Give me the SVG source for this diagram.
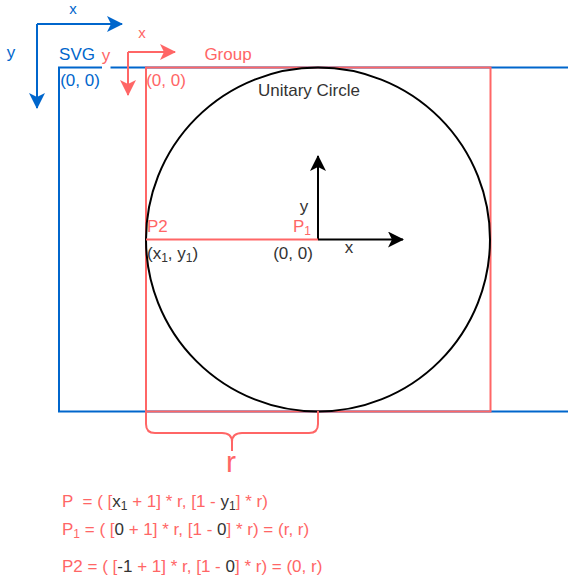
<svg xmlns="http://www.w3.org/2000/svg" width="568" height="583" viewBox="0 0 568 583">
<defs>
<style>
text{font-family:"Liberation Sans",Arial,sans-serif;font-size:17px}
.blue{fill:#0066CC}
.red{fill:#FF6666}
.dark{fill:#333333}
.c{text-anchor:middle}
.sub{font-size:12px}
.bl{stroke:#0066CC;stroke-width:2;fill:none}
.rl{stroke:#FF6666;stroke-width:2;fill:none}
.kl{stroke:#000000;stroke-width:2;fill:none}
</style>
<marker id="ab" viewBox="0 0 16 16" refX="15" refY="8" markerWidth="16" markerHeight="16" markerUnits="userSpaceOnUse" orient="auto">
<path d="M0,0 L16,8 L0,16 L4,8 Z" fill="#0066CC"/>
</marker>
<marker id="ar" viewBox="0 0 16 16" refX="15" refY="8" markerWidth="16" markerHeight="16" markerUnits="userSpaceOnUse" orient="auto">
<path d="M0,0 L16,8 L0,16 L4,8 Z" fill="#FF6666"/>
</marker>
<marker id="ak" viewBox="0 0 16 16" refX="15" refY="8" markerWidth="16" markerHeight="16" markerUnits="userSpaceOnUse" orient="auto">
<path d="M0,0 L16,8 L0,16 L4,8 Z" fill="#000000"/>
</marker>
</defs>
<rect width="568" height="583" fill="#ffffff"/>

<g id="svg-frame">
<path class="bl" d="M570,67.5 L59,67.5 L59,411.5 L570,411.5"/>
<text class="blue c" x="77" y="60">SVG</text>
<text class="blue c" x="80" y="86">(0, 0)</text>
</g>

<g id="group-frame">
<rect class="rl" x="146" y="67.5" width="344.5" height="344"/>
<text class="red c" x="228" y="60">Group</text>
<text class="red c" x="166" y="86">(0, 0)</text>
</g>

<g id="unitary-circle">
<circle cx="318" cy="239.5" r="172" fill="none" stroke="#000000" stroke-width="2"/>
<text class="dark c" x="309" y="96">Unitary Circle</text>
</g>

<g id="connectors">
<line class="bl" x1="37" y1="24" x2="122" y2="24" marker-end="url(#ab)"/>
<line class="bl" x1="37" y1="24" x2="37" y2="108" marker-end="url(#ab)"/>
<line class="rl" x1="128" y1="52" x2="175" y2="52" marker-end="url(#ar)"/>
<line class="rl" x1="128" y1="52" x2="128" y2="95" marker-end="url(#ar)"/>
<line class="kl" x1="318" y1="239.5" x2="318" y2="156" marker-end="url(#ak)"/>
<line class="kl" x1="318" y1="239.5" x2="403" y2="239.5" marker-end="url(#ak)"/>
<line class="rl" x1="146" y1="239.5" x2="318" y2="239.5"/>
<path class="rl" d="M146,411 L146,424 Q146,433 155,433 L222,433 Q232,433 232,442 L232,451 M232,442 Q232,433 242,433 L309,433 Q318,433 318,424 L318,411"/>
</g>

<g id="axis-labels">
<text class="blue c" x="73" y="14" style="font-size:15px">x</text>
<text class="blue c" x="11" y="58">y</text>
<rect x="102" y="50" width="8.5" height="19" fill="#ffffff"/>
<text class="red c" x="106" y="61">y</text>
<text class="red c" x="142" y="38" style="font-size:15px">x</text>
<text class="dark c" x="304" y="212">y</text>
<text class="dark c" x="349" y="253">x</text>
</g>

<g id="points">
<text class="red" x="293" y="232">P<tspan class="sub" dy="3">1</tspan></text>
<text class="red" x="147" y="232">P2</text>
<text class="dark" x="147" y="259">(x<tspan class="sub" dy="3">1</tspan><tspan dy="-3">, y</tspan><tspan class="sub" dy="3">1</tspan><tspan dy="-3">)</tspan></text>
<text class="dark c" x="293" y="259">(0, 0)</text>
</g>

<g id="radius-label">
<text class="red c" x="231" y="472" style="font-size:30px">r</text>
</g>

<g id="formulas">
<text class="red" x="62" y="507">P &#160;= ( [<tspan class="dark">x</tspan><tspan class="dark sub" dy="3">1</tspan><tspan dy="-3"> + 1] * r, [1 - </tspan><tspan class="dark">y</tspan><tspan class="dark sub" dy="3">1</tspan><tspan dy="-3">] * r)</tspan></text>
<text class="red" x="62" y="535">P<tspan class="sub" dy="3">1</tspan><tspan dy="-3"> = ( [</tspan><tspan class="dark">0</tspan> + 1] * r, [1 - <tspan class="dark">0</tspan>] * r) = (r, r)</text>
<text class="red" x="62" y="572">P2 = ( [<tspan class="dark">-1</tspan> + 1] * r, [1 - <tspan class="dark">0</tspan>] * r) = (0, r)</text>
</g>
</svg>
